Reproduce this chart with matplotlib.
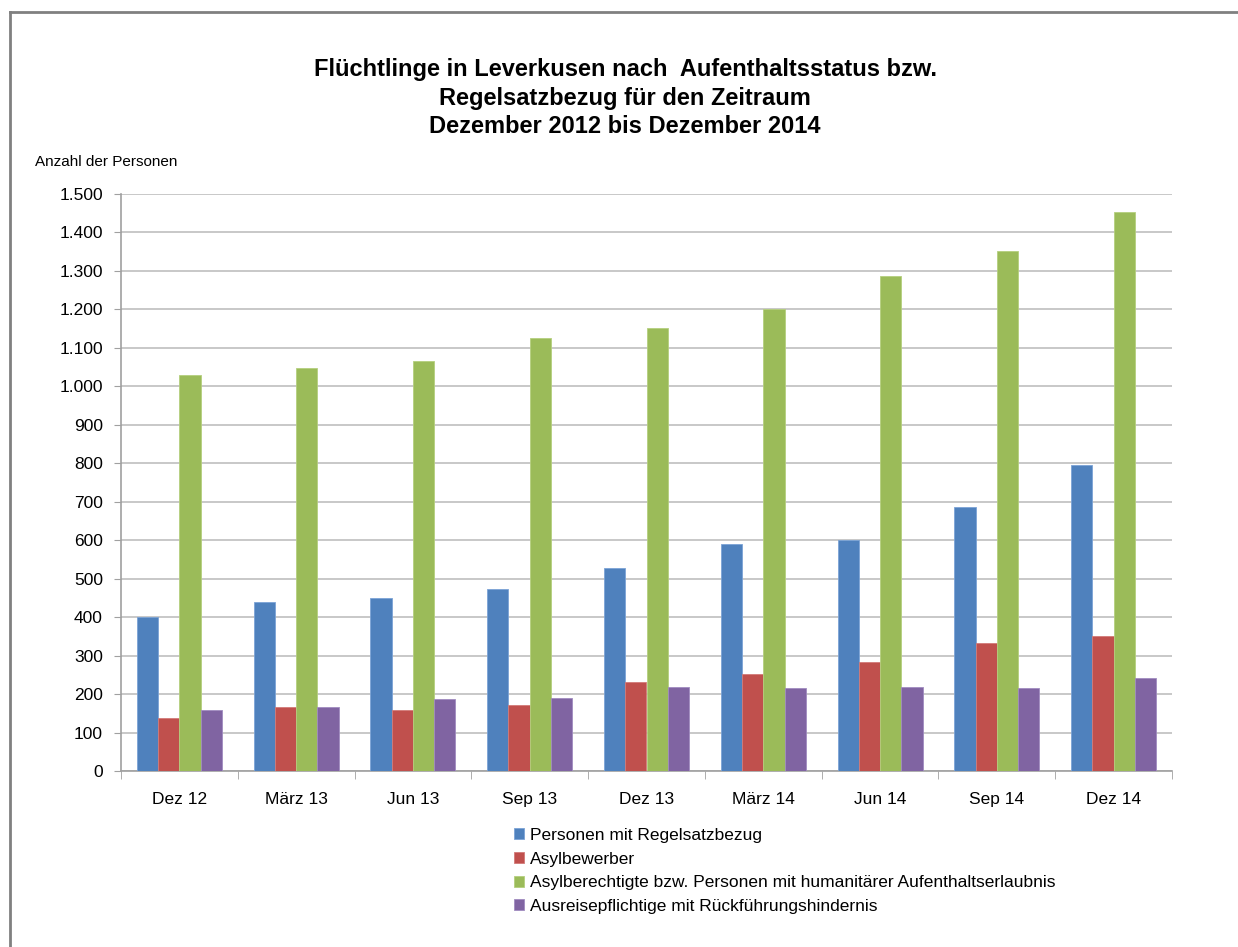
import matplotlib.pyplot as plt
import matplotlib.lines as mlines
import numpy as np

plt.rcParams['font.family'] = ['Liberation Sans', 'DejaVu Sans']

monate = ['Dez 12', 'März 13', 'Jun 13', 'Sep 13', 'Dez 13', 'März 14', 'Jun 14', 'Sep 14', 'Dez 14']
regelsatz = [401, 440, 451, 472, 527, 590, 600, 687, 795]
asylbewerber = [137, 167, 158, 172, 232, 251, 283, 333, 351]
asylberechtigte = [1029, 1048, 1066, 1126, 1152, 1201, 1287, 1352, 1453]
ausreisepflichtige = [158, 167, 187, 189, 219, 217, 219, 215, 241]

namen = ['Personen mit Regelsatzbezug',
         'Asylbewerber',
         'Asylberechtigte bzw. Personen mit humanitärer Aufenthaltserlaubnis',
         'Ausreisepflichtige mit Rückführungshindernis']
farben = ['#4F81BD', '#C0504D', '#9BBB59', '#8064A2']
kanten = ['#7BA3D6', '#D27A78', '#B5CF7E', '#A08BC0']

fig = plt.figure(figsize=(12.38, 9.47), dpi=100)
ax = fig.add_axes([121/1238, 1-771/947, 1051/1238, 577/947])

x = np.arange(len(monate))
w = 0.182
reihen = [regelsatz, asylbewerber, asylberechtigte, ausreisepflichtige]
for i, werte in enumerate(reihen):
    ax.bar(x + (i - 1.5)*w, werte, w, color=farben[i], edgecolor=kanten[i],
           linewidth=0.6, label=namen[i], zorder=3)

ax.set_xlim(-0.5, len(monate) - 0.5)
ax.set_ylim(0, 1500)
ax.set_yticks(range(0, 1501, 100))
ax.set_yticklabels([f'{v:,}'.replace(',', '.') for v in range(0, 1501, 100)], fontsize=12.5)
ax.yaxis.grid(True, color='#BFBFBF', linewidth=1.2, zorder=0)
ax.tick_params(axis='y', length=5, color='#A0A0A0', pad=8)

ax.set_xticks(x)
ax.set_xticklabels(monate, fontsize=12.5)
ax.tick_params(axis='x', length=0, pad=15)
# Striche zwischen den Kategorien
ax.set_xticks(np.arange(-0.5, len(monate)), minor=True)
ax.tick_params(axis='x', which='minor', length=6, color='#A0A0A0')

for s in ['top', 'right']:
    ax.spines[s].set_visible(False)
ax.spines['left'].set_color('#A0A0A0')
ax.spines['bottom'].set_color('#A0A0A0')
ax.spines['left'].set_linewidth(1.2)
ax.spines['bottom'].set_linewidth(1.2)

fig.text(625/1238, 1-98/947, 'Flüchtlinge in Leverkusen nach  Aufenthaltsstatus bzw.\n'
         'Regelsatzbezug für den Zeitraum\nDezember 2012 bis Dezember 2014',
         ha='center', va='center', fontsize=17, fontweight='bold', linespacing=1.28)
fig.text(35/1238, 1-162/947, 'Anzahl der Personen', fontsize=11, va='center')

leg = fig.legend(loc='upper left', bbox_to_anchor=(507/1238, 1-821/947), frameon=False,
                 fontsize=12.5, handlelength=0.6, handleheight=0.6, handletextpad=0.3,
                 labelspacing=0.5, borderaxespad=0)

fig.add_artist(mlines.Line2D([10/1238, 10/1238], [0, 1-12/947], color='#808080', linewidth=2))
fig.add_artist(mlines.Line2D([10/1238, 1], [1-12/947, 1-12/947], color='#808080', linewidth=2))

plt.savefig('out.png', dpi=100)
